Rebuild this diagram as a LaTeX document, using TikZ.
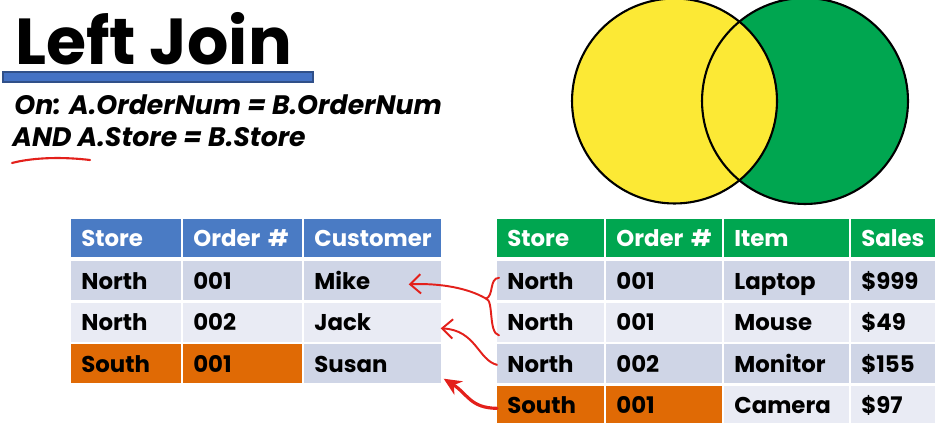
\documentclass[tikz,border=0pt]{standalone}
\usepackage{fontspec}
\setmainfont{Poppins}
\usetikzlibrary{arrows.meta,calc}

\definecolor{hdrblue}{HTML}{4A7BC4}
\definecolor{hdrgreen}{HTML}{00A650}
\definecolor{rowdark}{HTML}{CFD5E6}
\definecolor{rowlight}{HTML}{E9EBF4}
\definecolor{joinorange}{HTML}{E06A05}
\definecolor{vennyellow}{HTML}{FCE935}
\definecolor{venngreen}{HTML}{00A650}
\definecolor{penred}{HTML}{E3201B}
\definecolor{barblue}{HTML}{4472C4}

\tikzset{
  cell/.style={anchor=north west, inner xsep=0.2cm, inner ysep=0pt,
    text height=9.4pt, text depth=0pt, minimum height=0.78cm,
    font=\fontsize{13}{15}\selectfont\bfseries, align=left},
  hdr/.style={cell, minimum height=0.76cm, text=white},
  vennset/.style={circle, draw=black, line width=1.2pt, inner sep=0pt, minimum size=4.1cm},
  redpen/.style={draw=penred, line width=1.1pt, line cap=round, line join=round},
}

\begin{document}
\begin{tikzpicture}[x=0.02cm,y=-0.02cm]
  \clip (0,0) rectangle (935,422);
  \fill[white] (0,0) rectangle (935,422);

  % title and join condition
  \node[anchor=base west, inner sep=0pt, font=\fontsize{37}{40}\selectfont\bfseries] (title) at (15,65) {Left Join};
  \draw[draw=barblue!70!black, fill=barblue, line width=0.6pt] (3,72) rectangle (313,82);
  \node[anchor=base west, inner sep=0pt, font=\fontsize{15.2}{17}\selectfont\bfseries\itshape] (cond1) at (14,115) {On: A.OrderNum = B.OrderNum};
  \node[anchor=base west, inner sep=0pt, font=\fontsize{15.2}{17}\selectfont\bfseries\itshape] (cond2) at (12,147) {AND A.Store = B.Store};
  \draw[redpen, line width=1.2pt] (12,163) .. controls (35,157) and (65,157) .. (90,160);

  % venn diagram
  \fill[venngreen] (805,101) circle (103);
  \fill[vennyellow] (674.5,101) circle (102.5);
  \node[vennset] (vennA) at (674.5,101) {};
  \node[vennset, minimum size=4.12cm] (vennB) at (805,101) {};

  % table A
  \foreach \x/\w/\t [count=\c] in {71/90/Store,183/99/Order \#,304/117/Customer}
    \node[hdr, fill=hdrblue, text width=\w*0.02cm] (A0\c) at (\x,219) {\t};
  \foreach \r/\y/\fa/\fb/\ta/\tb/\tc in {1/261/rowdark/rowdark/North/001/Mike,
      2/302.5/rowlight/rowlight/North/002/Jack, 3/344/joinorange/rowdark/South/001/Susan}{
    \node[cell, fill=\fa, text width=90*0.02cm] (A\r1) at (71,\y) {\ta};
    \node[cell, fill=\fa, text width=99*0.02cm] (A\r2) at (183,\y) {\tb};
    \node[cell, fill=\fb, text width=117*0.02cm] (A\r3) at (304,\y) {\tc};
  }

  % table B
  \foreach \x/\w/\t [count=\c] in {497/87/Store,606/96/Order \#,724/105/Item,851/80/Sales}
    \node[hdr, fill=hdrgreen, text width=\w*0.02cm] (B0\c) at (\x,219) {\t};
  \foreach \r/\y/\fa/\fb/\ta/\tb/\tc/\td in {1/261/rowdark/rowdark/North/001/Laptop/\$999,
      2/302.5/rowlight/rowlight/North/001/Mouse/\$49, 3/344/rowdark/rowdark/North/002/Monitor/\$155,
      4/385.5/joinorange/rowlight/South/001/Camera/\$97}{
    \node[cell, fill=\fa, text width=87*0.02cm] (B\r1) at (497,\y) {\ta};
    \node[cell, fill=\fa, text width=96*0.02cm] (B\r2) at (606,\y) {\tb};
    \node[cell, fill=\fb, text width=105*0.02cm] (B\r3) at (724,\y) {\tc};
    \node[cell, fill=\fb, text width=80*0.02cm] (B\r4) at (851,\y) {\td};
  }

  % hand drawn matches
  \coordinate (brace) at ($(B11.west)!0.5!(B21.west)+(-11,-3)$);
  \draw[redpen] ($(B11.west)+(2,-3)$) .. controls (489,278) and (494,296) .. (brace)
    .. controls (494,300) and (488,333) .. ($(B21.west)+(2,13)$);
  \draw[redpen, -{Straight Barb[length=6pt,width=11pt]}] (brace) .. controls (468,288) and (440,283) .. ($(A13.east)+(-33,3.5)$);
  \draw[redpen, -{Straight Barb[length=6pt,width=11pt]}] ($(B31.west)+(0,1)$) .. controls (478,360) and (476,330) .. ($(A23.east)+(-1,6)$);
  \draw[redpen, line width=1.8pt, -{Stealth[length=10pt,width=9pt]}] ($(B41.west)+(0,3)$) .. controls (470,408) and (468,394) .. ($(A33.south east)+(2,-5)$);
\end{tikzpicture}
\end{document}
